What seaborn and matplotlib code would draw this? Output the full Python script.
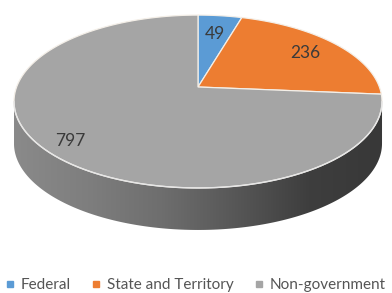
import numpy as np
import matplotlib
matplotlib.use("Agg")
import matplotlib.pyplot as plt
import seaborn as sns
from matplotlib.patches import Polygon
from matplotlib.lines import Line2D
from matplotlib.colors import LinearSegmentedColormap

# data
categories = ['Federal', 'State and Territory', 'Non-government']
values = [49, 236, 797]
colors = ['#5B9BD5', '#ED7D31', '#A5A5A5']

sns.set_style('white')
plt.rcParams['font.family'] = ['Lato', 'DejaVu Sans']

# projected pie layout (pixels)
cx, cy = 198, 87
sx, sy = 181.4, 84.0
k = 0.168          # perspective strength
depth = 42
label_r = [0.72, 0.77, 0.86]


def project(x, y):
    w = 1 + k * y
    return cx + sx * x / w, cy - sy * y / w


fig = plt.figure(figsize=(3.92, 2.93), dpi=100)
ax = fig.add_axes([0, 0, 1, 1])

wedges, _ = ax.pie(values, startangle=90, counterclock=False, radius=1)

# side of the disc (front half), shaded left to right
a = np.degrees(np.arcsin(k))
t = np.radians(np.linspace(180 + a, 360 - a, 200))
fx, fy = project(np.cos(t), np.sin(t))
side_x = np.concatenate([fx, fx[::-1]])
side_y = np.concatenate([fy + depth, fy[::-1]])
side = Polygon(np.column_stack([side_x, side_y]), closed=True,
               facecolor='none', edgecolor='none')
ax.add_patch(side)
cmap = LinearSegmentedColormap.from_list(
    'side', ['#8a8a8a', '#7e7e7e', '#6e6e6e', '#575757', '#3e3e3e', '#383838'])
grad = np.linspace(0, 1, 256)[None, :]
img = ax.imshow(grad, cmap=cmap, extent=[fx.min(), fx.max(), fy.max() + depth + 2, fy.min()],
                aspect='auto', zorder=1)
img.set_clip_path(side)

# top face slices re-drawn in perspective
for w, c, v, r in zip(wedges, colors, values, label_r):
    th = np.radians(np.linspace(w.theta1, w.theta2, 120))
    px, py = project(np.cos(th), np.sin(th))
    ox, oy = project(0, 0)
    pts = np.column_stack([np.r_[ox, px], np.r_[oy, py]])
    ax.add_patch(Polygon(pts, closed=True, facecolor=c, edgecolor='#f4efe8',
                         linewidth=0.9, zorder=2))
    mid = np.radians((w.theta1 + w.theta2) / 2)
    lx, ly = project(r * np.cos(mid), r * np.sin(mid))
    ax.text(lx, ly, str(v), ha='center', va='center', fontsize=12.5,
            color='#3a3a3a', zorder=4)
    w.remove()

# light rim along the front edge
ax.plot(fx, fy, color='#e6e6e6', linewidth=1.0, zorder=3)

ax.set_xlim(0, 392)
ax.set_ylim(293, 0)
ax.set_aspect('auto')
ax.axis('off')

handles = [Line2D([], [], marker='s', linestyle='none', markersize=4.5,
                  markerfacecolor=c, markeredgecolor=c) for c in colors]
leg = fig.legend(handles, categories, loc='lower center', ncol=3,
                 bbox_to_anchor=(0.5, -0.045), frameon=False, fontsize=11,
                 handlelength=0.5, handletextpad=0.45, columnspacing=1.4)
for txt in leg.get_texts():
    txt.set_color('#555555')

fig.savefig('out.png', dpi=100)
